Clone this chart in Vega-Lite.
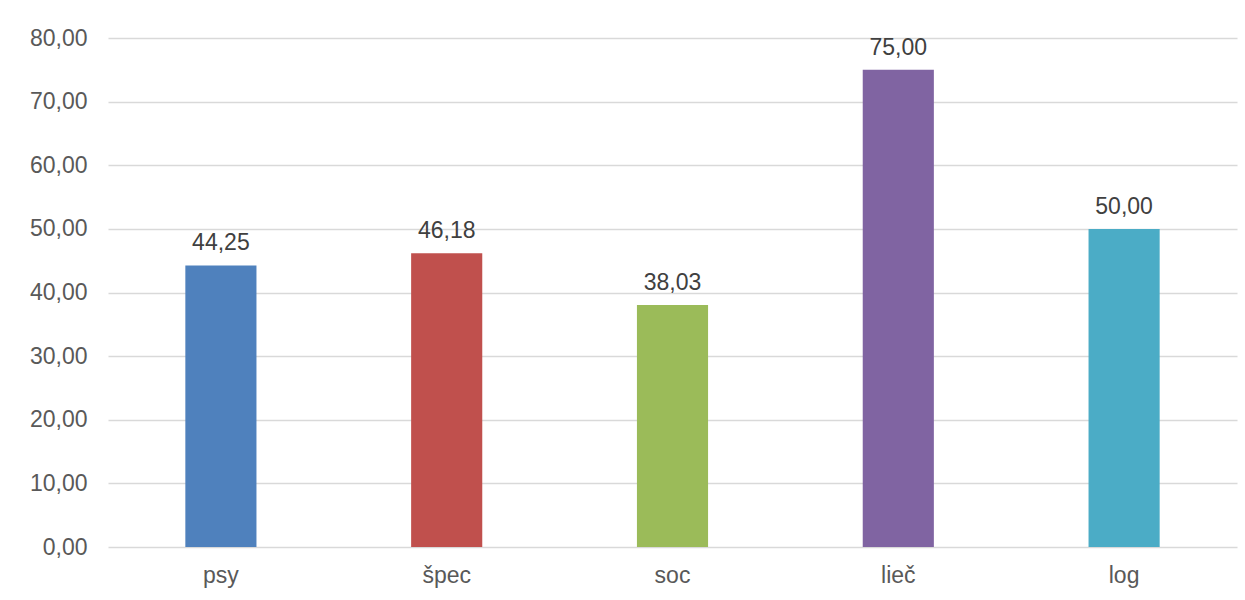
{
  "$schema": "https://vega.github.io/schema/vega-lite/v6.json",
  "width": 1129,
  "height": 509,
  "autosize": {"type": "none"},
  "padding": {"left": 108, "top": 38, "right": 8, "bottom": 53},
  "background": "white",
  "config": {
    "locale": {"number": {"decimal": ",", "thousands": " ", "grouping": [3], "currency": ["", " €"]}},
    "view": {"stroke": null},
    "font": "Liberation Sans"
  },
  "data": {
    "values": [
      {"cat": "psy", "value": 44.25},
      {"cat": "špec", "value": 46.18},
      {"cat": "soc", "value": 38.03},
      {"cat": "lieč", "value": 75.00},
      {"cat": "log", "value": 50.00}
    ]
  },
  "encoding": {
    "x": {
      "field": "cat",
      "type": "nominal",
      "sort": null,
      "scale": {"paddingInner": 0.685, "paddingOuter": 0.3425},
      "axis": {
        "title": null,
        "labelAngle": 0,
        "domain": false,
        "ticks": false,
        "labelFontSize": 23,
        "labelColor": "#595959",
        "labelPadding": 17
      }
    },
    "y": {
      "field": "value",
      "type": "quantitative",
      "scale": {"domain": [0, 80], "nice": false},
      "axis": {
        "title": null,
        "values": [0, 10, 20, 30, 40, 50, 60, 70, 80],
        "format": ".2f",
        "domain": false,
        "ticks": false,
        "labelFontSize": 23,
        "labelColor": "#595959",
        "labelPadding": 21,
        "gridColor": "#D9D9D9",
        "gridWidth": 1.5
      }
    }
  },
  "layer": [
    {
      "mark": {"type": "bar"},
      "encoding": {
        "color": {
          "field": "cat",
          "type": "nominal",
          "sort": null,
          "scale": {
            "domain": ["psy", "špec", "soc", "lieč", "log"],
            "range": ["#4F81BD", "#C0504D", "#9BBB59", "#8064A2", "#4BACC6"]
          },
          "legend": null
        }
      }
    },
    {
      "mark": {"type": "text", "baseline": "alphabetic", "dy": -15, "fontSize": 23, "color": "#404040"},
      "encoding": {
        "text": {"field": "value", "type": "quantitative", "format": ".2f"}
      }
    }
  ]
}
